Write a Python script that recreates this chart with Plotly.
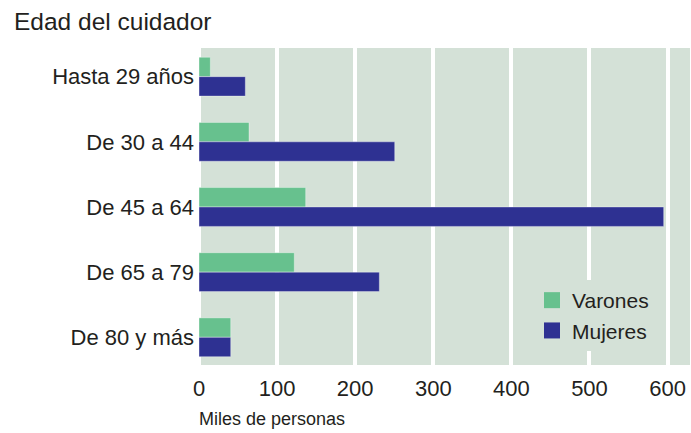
import plotly.graph_objects as go

categories = ["Hasta 29 años", "De 30 a 44", "De 45 a 64", "De 65 a 79", "De 80 y más"]
varones = [14.5, 64, 136.6, 122, 40.6]
mujeres = [59.3, 250.6, 595, 230.9, 40.6]
x_ticks = [0, 100, 200, 300, 400, 500, 600]

GREEN = "#67C18E"
BLUE = "#2E3192"
BG = "#D4E1D7"
TXT = "#231F20"
FONT = "Liberation Sans, Arial, sans-serif"

W, H = 691, 433
L, R, T, B = 198, 1, 48, 68
pw = W - L - R
ph = H - T - B

def px_x(p):
    return (p - L) / pw

def px_y(p):
    return 1 - (p - T) / ph

fig = go.Figure()
fig.add_trace(go.Bar(y=categories, x=varones, orientation="h", name="Varones",
                     marker=dict(color=GREEN, line=dict(color="rgba(255,255,255,0.35)", width=1)),
                     showlegend=False))
fig.add_trace(go.Bar(y=categories, x=mujeres, orientation="h", name="Mujeres",
                     marker=dict(color=BLUE, line=dict(color="rgba(255,255,255,0.35)", width=1)),
                     showlegend=False))
# legend proxies
fig.add_trace(go.Scatter(x=[None], y=[None], mode="markers", name="Varones",
                         marker=dict(symbol="square", size=16, color=GREEN)))
fig.add_trace(go.Scatter(x=[None], y=[None], mode="markers", name="Mujeres",
                         marker=dict(symbol="square", size=16, color=BLUE)))

fig.update_layout(
    width=W, height=H,
    margin=dict(l=L, r=R, t=T, b=B, pad=0),
    paper_bgcolor="white",
    plot_bgcolor=BG,
    barmode="group",
    bargap=0.404,
    bargroupgap=0,
    font=dict(family=FONT, color=TXT),
    legend=dict(x=px_x(532), y=px_y(280), xanchor="left", yanchor="top",
                bgcolor=BG, font=dict(size=21, color=TXT),
                itemsizing="trace", tracegroupgap=0),
    xaxis=dict(range=[-1.3, 628.7], tickvals=x_ticks, showgrid=True,
               gridcolor="white", gridwidth=4, zeroline=False,
               ticks="outside", ticklen=4, tickcolor="rgba(0,0,0,0)",
               tickfont=dict(size=22, color=TXT), fixedrange=True),
    yaxis=dict(categoryorder="array", categoryarray=categories,
               range=[4.425, -0.44], showgrid=False, zeroline=False,
               ticks="", ticklabelstandoff=3, fixedrange=True,
               tickfont=dict(size=22, color=TXT)),
    annotations=[
        dict(text="Edad del cuidador", xref="paper", yref="paper",
             x=px_x(12), y=px_y(21), xanchor="left", yanchor="middle",
             showarrow=False, font=dict(size=24.5, color=TXT)),
        dict(text="Miles de personas", xref="paper", yref="paper",
             x=px_x(197), y=px_y(419), xanchor="left", yanchor="middle",
             showarrow=False, font=dict(size=18, color=TXT)),
    ],
)

fig.write_html("out.html", config={"displayModeBar": False},
               post_script="document.body.style.margin='0';")
